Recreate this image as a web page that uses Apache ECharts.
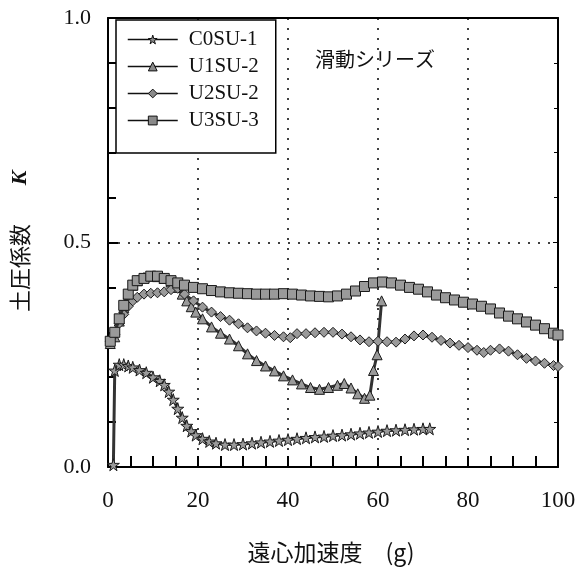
<!DOCTYPE html>
<html>
<head>
<meta charset="utf-8">
<script src="https://cdn.jsdelivr.net/npm/echarts@6/dist/echarts.min.js"></script>
<style>
  html, body { margin: 0; padding: 0; background: #fff; }
  #chart { width: 581px; height: 569px; }
</style>
</head>
<body>
<div id="chart"></div>
<script>
// values: [acceleration (g), K]
const c0su1 = [[1.2,0.005],[1.5,0.215],[2.5,0.228],[3.5,0.228],[4.5,0.225],[5.5,0.222],[7,0.216],[8.5,0.21],[10,0.2],[11.5,0.192],[12.5,0.183],[13.5,0.168],[14.5,0.15],[15.5,0.13],[16.5,0.11],[17.5,0.092],[18.5,0.08],[19.5,0.071],[21,0.063],[22.5,0.057],[24,0.053],[26,0.05],[28,0.05],[30,0.051],[32,0.053],[34,0.055],[36,0.057],[38,0.059],[40,0.061],[42,0.063],[44,0.065],[46,0.067],[48,0.068],[50,0.07],[52,0.071],[54,0.073],[56,0.075],[58,0.077],[60,0.079],[62,0.081],[64,0.082],[66,0.083],[68,0.084],[70,0.085],[71.5,0.085]];
const u1su2 = [[0.5,0.275],[1.5,0.29],[2.5,0.325],[3.5,0.355],[4.5,0.385],[5.5,0.405],[6.5,0.415],[8,0.422],[9.5,0.425],[11,0.424],[12.5,0.42],[14,0.412],[15.5,0.4],[16.5,0.385],[17.5,0.37],[18.5,0.357],[19.5,0.345],[21,0.33],[23,0.312],[25,0.298],[27,0.285],[29,0.27],[31,0.252],[33,0.237],[35,0.225],[37,0.214],[39,0.203],[41,0.194],[43,0.185],[45,0.177],[47,0.173],[49,0.177],[51,0.182],[52.5,0.186],[54,0.176],[55.5,0.163],[57,0.153],[58.2,0.16],[59,0.215],[59.8,0.25],[60.8,0.37]];
const u2su2 = [[0.5,0.28],[1.5,0.295],[2.5,0.32],[3.5,0.34],[4.5,0.358],[5.5,0.37],[6.5,0.378],[8,0.385],[9.5,0.387],[11,0.388],[12.5,0.39],[14,0.395],[15.5,0.398],[17,0.385],[19,0.37],[21,0.356],[23,0.345],[25,0.335],[27,0.327],[29,0.319],[31,0.31],[33,0.303],[35,0.298],[37,0.293],[39,0.29],[40.5,0.288],[42,0.297],[44,0.297],[46,0.299],[48,0.3],[50,0.3],[52,0.296],[54,0.29],[56,0.283],[58,0.279],[60,0.28],[62,0.279],[64,0.278],[66,0.285],[68,0.292],[70,0.294],[72,0.289],[74,0.282],[76,0.276],[78,0.271],[80,0.266],[82,0.26],[83.5,0.255],[85,0.26],[87,0.263],[89,0.258],[91,0.25],[93,0.242],[95,0.236],[97,0.231],[99,0.226],[100,0.224]];
const u3su3 = [[0.5,0.28],[1.5,0.3],[2.5,0.33],[3.5,0.36],[4.5,0.385],[5.5,0.405],[6.5,0.415],[8,0.42],[9.5,0.425],[11,0.425],[12.5,0.42],[14,0.415],[15.5,0.41],[17,0.405],[19,0.4],[21,0.397],[23,0.393],[25,0.39],[27,0.388],[29,0.387],[31,0.386],[33,0.385],[35,0.385],[37,0.385],[39,0.386],[41,0.385],[43,0.383],[45,0.381],[47,0.38],[49,0.379],[51,0.381],[53,0.385],[55,0.392],[57,0.402],[59,0.41],[61,0.412],[63,0.41],[65,0.405],[67,0.4],[69,0.396],[71,0.39],[73,0.383],[75,0.377],[77,0.372],[79,0.367],[81,0.363],[83,0.358],[85,0.352],[87,0.343],[89,0.336],[91,0.33],[93,0.323],[95,0.316],[97,0.308],[99,0.298],[100,0.294]];

const seriesNames = ["C0SU-1", "U1SU-2", "U2SU-2", "U3SU-3"];
const seriesData = [c0su1, u1su2, u2su2, u3su3];
const starPath = "path://M50,0 L61,35 L98,35 L68,57 L79,91 L50,70 L21,91 L32,57 L2,35 L39,35 Z";
const symbols = [starPath, "triangle", "diamond", "rect"];

const serif = "Liberation Serif";
const cjk = "Noto Sans CJK JP";

const chart = echarts.init(document.getElementById("chart"));

chart.setOption({
  animation: false,
  title: {
    text: "滑動シリーズ",
    left: 310,
    top: 44,
    textStyle: { fontFamily: cjk, fontSize: 20, fontWeight: "normal", color: "#111" }
  },
  // axis titles placed as plain text
  graphic: [
    { type: "text", x: 331, y: 552, style: { text: "遠心加速度　(g)", font: "23px '" + cjk + "'", fill: "#111", align: "center", verticalAlign: "middle" } },
    { type: "text", x: 20, y: 268, rotation: Math.PI / 2, style: { text: "土圧係数", font: "22px '" + cjk + "'", fill: "#111", align: "center", verticalAlign: "middle" } },
    { type: "text", x: 20, y: 178, rotation: Math.PI / 2, style: { text: "K", font: "italic bold 22px '" + serif + "'", fill: "#111", align: "center", verticalAlign: "middle" } }
  ],
  legend: {
    orient: "vertical",
    left: 116,
    top: 20,
    z: 20,
    data: seriesNames,
    backgroundColor: "#fff",
    borderColor: "#000",
    borderWidth: 1.5,
    borderRadius: 0,
    padding: [9, 17, 22, 11],
    itemWidth: 50,
    itemHeight: 11,
    itemGap: 6,
    lineStyle: { width: 1.5, color: "#111" },
    itemStyle: { color: "#8a8a8a", borderColor: "#111", borderWidth: 1 },
    textStyle: { fontFamily: serif, fontSize: 21, color: "#111", padding: [0, 0, 0, 6] }
  },
  grid: { left: 108, right: 23, top: 18, bottom: 102 },
  xAxis: [{
    type: "value",
    min: 0, max: 100, interval: 20,
    axisLine: { show: true, onZero: false, lineStyle: { color: "#000", width: 2 } },
    axisTick: { show: true, inside: true, length: 11, lineStyle: { color: "#000", width: 2 } },
    minorTick: { show: true, splitNumber: 4, length: 11, lineStyle: { color: "#000", width: 2 } },
    axisLabel: { fontFamily: serif, fontSize: 23, color: "#111", margin: 22 },
    splitLine: { show: true, lineStyle: { color: "#000", width: 1.5, type: [2, 8] } }
  }, {
    type: "value",
    position: "top",
    min: 0, max: 100, interval: 20,
    axisLine: { show: true, onZero: false, lineStyle: { color: "#000", width: 2 } },
    axisTick: { show: false },
    axisLabel: { show: false },
    splitLine: { show: false }
  }],
  yAxis: [{
    type: "value",
    min: 0, max: 1, interval: 0.5,
    axisLine: { show: true, onZero: false, lineStyle: { color: "#000", width: 2 } },
    axisTick: { show: true, inside: true, length: 10, lineStyle: { color: "#000", width: 2 } },
    minorTick: { show: true, splitNumber: 5, length: 8, lineStyle: { color: "#000", width: 2 } },
    axisLabel: { fontFamily: serif, fontSize: 22, color: "#111", margin: 17, formatter: v => v.toFixed(1) },
    splitLine: { show: true, lineStyle: { color: "#000", width: 1.5, type: [2, 8] } }
  }, {
    type: "value",
    position: "right",
    min: 0, max: 1, interval: 0.5,
    axisLine: { show: true, onZero: false, lineStyle: { color: "#000", width: 2 } },
    axisTick: { show: true, inside: true, length: 5, lineStyle: { color: "#000", width: 1 } },
    minorTick: { show: true, splitNumber: 5, length: 4, lineStyle: { color: "#000", width: 1 } },
    axisLabel: { show: false },
    splitLine: { show: false }
  }],
  series: seriesNames.map((name, i) => ({
    name: name,
    type: "line",
    xAxisIndex: 0,
    yAxisIndex: 0,
    data: seriesData[i],
    symbol: symbols[i],
    symbolSize: i === 0 ? 12 : 10,
    showAllSymbol: true,
    lineStyle: { color: "#333", width: 3 },
    itemStyle: { color: "#9a9a9a", borderColor: "#1a1a1a", borderWidth: 1 },
    z: 2 + i
  }))
});
</script>
</body>
</html>
